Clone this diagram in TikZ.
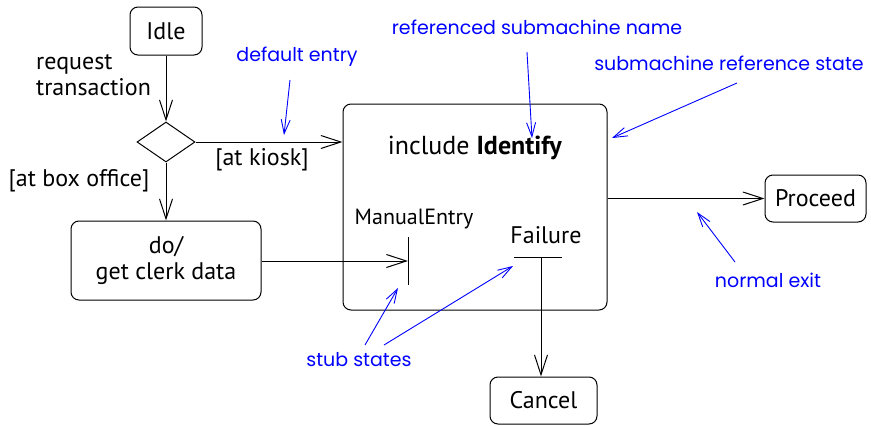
\documentclass[tikz,border=0pt]{standalone}
\usepackage{fontspec}
\setmainfont{PT Sans}
\newfontfamily\notefont{Poppins}
\usetikzlibrary{arrows.meta,shapes.geometric}
\tikzset{
  statebox/.style={draw,rounded corners=8pt,line width=1pt,inner sep=0pt},
  lbl/.style={font=\fontsize{24}{26}\selectfont,inner sep=0pt},
  note/.style={font=\notefont\fontsize{19}{22}\selectfont,text=blue,inner sep=0pt},
  flow/.style={line width=1pt,-{Straight Barb[length=20pt,width=13pt,line width=1pt]}},
  pointer/.style={blue,line width=0.9pt,-{Straight Barb[length=14pt,width=9pt,line width=0.9pt]}},
}
\begin{document}
\begin{tikzpicture}[x=1pt,y=-1pt]
\useasboundingbox (0,0) rectangle (871,426);
% states
\node[statebox,minimum width=72pt,minimum height=48pt,lbl] (idle) at (166,31) {Idle};
\node[draw,line width=1pt,shape=diamond,aspect=1.45,minimum width=58pt,minimum height=40pt,inner sep=0pt] (dec) at (166,142) {};
\node[statebox,minimum width=264pt,minimum height=206pt] (sub) at (475,207) {};
\node[statebox,minimum width=101pt,minimum height=47pt,lbl] (proceed) at (815.5,198.5) {Proceed};
\node[statebox,minimum width=190pt,minimum height=79pt,lbl,align=center] (clerk) at (166,260.5) {do/\\get clerk data};
\node[statebox,minimum width=107pt,minimum height=47pt,lbl] (cancel) at (543.5,400.5) {Cancel};
% texts
\node[lbl,font=\fontsize{26}{28}\selectfont] (title) at (475,148) {include \textbf{Identify}};
\node[lbl,align=left,anchor=west] (req) at (36,75) {request\\transaction};
\node[lbl] (box) at (79,181) {[at box office]};
\node[lbl] (kiosk) at (262,160) {[at kiosk]};
\node[lbl,font=\fontsize{22}{26}\selectfont] (metxt) at (414,219) {ManualEntry};
\node[lbl] (fatxt) at (546,235) {Failure};
% stubs
\coordinate (me) at (408,261);
\coordinate (fa) at (541,257);
\draw[line width=1pt] (408,237) -- (408,285);
\draw[line width=1pt] (514,257) -- (562,257);
% transitions
\draw[flow] (idle) -- (dec.north);
\draw[flow] (dec.east) -- (dec.east -| sub.west);
\draw[flow] (dec.south) -- (clerk.north);
\draw[flow] (clerk.east |- me) -- (me);
\draw[flow] (sub.east |- proceed) -- (proceed.west);
\draw[flow] (fa) -- (fa |- cancel.north);
% notes
\node[note] (ndef) at (297,57) {default entry};
\node[note] (nref) at (537,27) {referenced submachine name};
\node[note] (nstate) at (729,63) {submachine reference state};
\node[note] (nexit) at (768,280) {normal exit};
\node[note] (nstub) at (359,360) {stub states};
\coordinate (a1) at (290,80); \coordinate (a1e) at (284,135);
\coordinate (a2) at (527,52); \coordinate (a2e) at (532,138);
\coordinate (a3) at (737,83); \coordinate (a3e) at (612,138);
\coordinate (a4) at (735,262); \coordinate (a4e) at (697,212);
\coordinate (a5) at (365,345); \coordinate (a5e) at (398,288);
\coordinate (a6) at (384,345); \coordinate (a6e) at (513,266);
\draw[pointer] (a1) -- (a1e);
\draw[pointer] (a2) -- (a2e);
\draw[pointer] (a3) -- (a3e);
\draw[pointer] (a4) -- (a4e);
\draw[pointer] (a5) -- (a5e);
\draw[pointer] (a6) -- (a6e);
\end{tikzpicture}
\end{document}
